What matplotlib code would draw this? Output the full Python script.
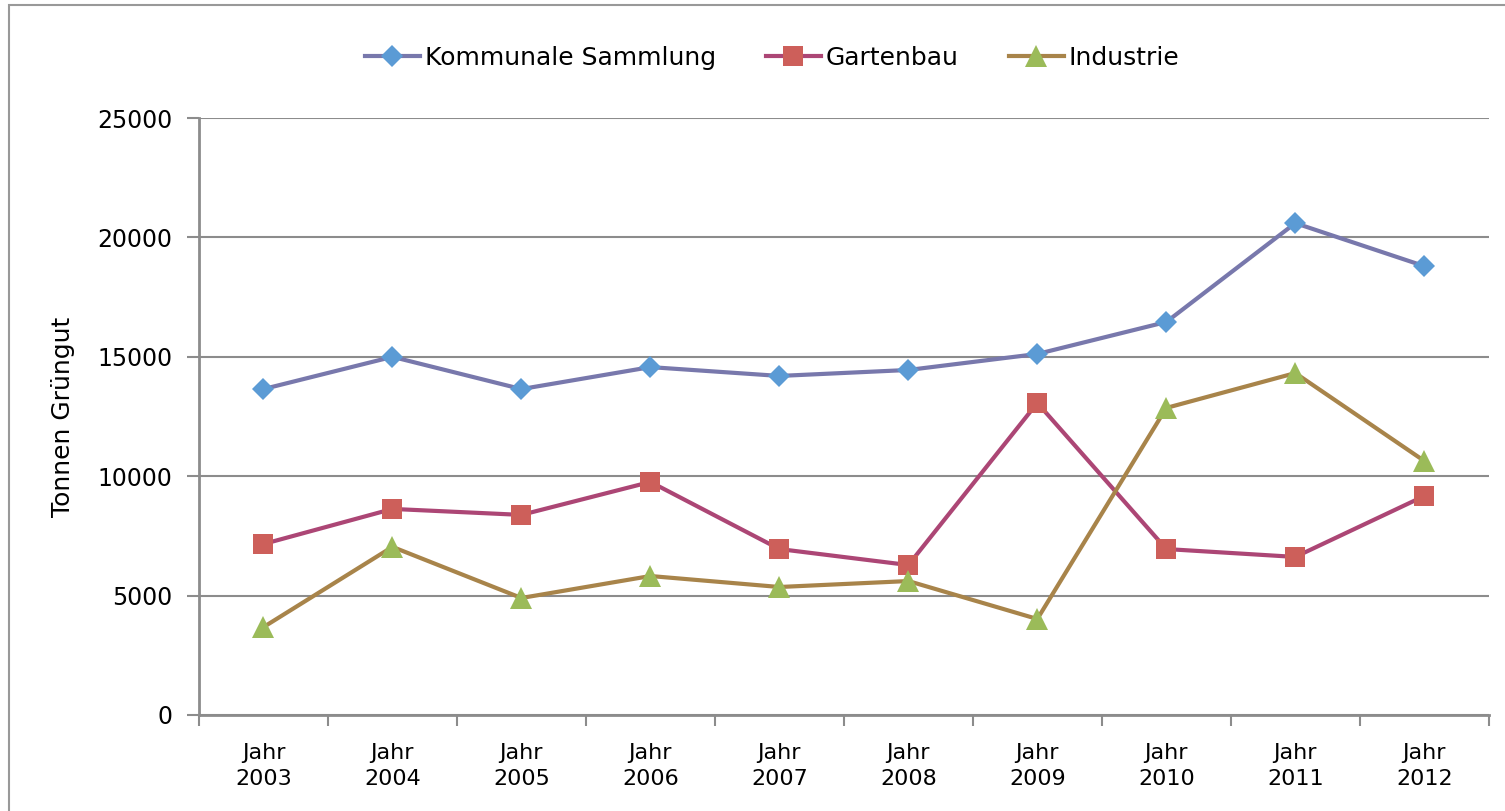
import numpy as np
import matplotlib
matplotlib.use("Agg")
import matplotlib.pyplot as plt
from matplotlib.patches import Rectangle

# Daten
jahre = ["Jahr\n2003", "Jahr\n2004", "Jahr\n2005", "Jahr\n2006", "Jahr\n2007",
         "Jahr\n2008", "Jahr\n2009", "Jahr\n2010", "Jahr\n2011", "Jahr\n2012"]
kommunal = [13650, 15000, 13650, 14570, 14200, 14450, 15120, 16460, 20600, 18800]
gartenbau = [7160, 8630, 8380, 9760, 6950, 6280, 13070, 6950, 6620, 9170]
industrie = [3680, 7040, 4900, 5820, 5360, 5610, 4020, 12860, 14320, 10640]

fig = plt.figure(figsize=(15.05, 8.11), dpi=100)
ax = fig.add_axes([0.1322, 0.1184, 0.857, 0.736])

# Rahmen um das Diagramm
fig.patches.append(Rectangle((9 / 1505, -0.1), 1.2, 1 - 5 / 811 + 0.1,
                             transform=fig.transFigure, fill=False,
                             edgecolor="#999999", linewidth=1.5))

x = np.arange(len(jahre))
ax.plot(x, kommunal, color="#7878AC", lw=3, marker="D", ms=11,
        mfc="#5B9BD5", mec="#5B9BD5", mew=0, label="Kommunale Sammlung", zorder=3)
ax.plot(x, gartenbau, color="#AC4675", lw=3, marker="s", ms=15,
        mfc="#CD5F5A", mec="#CD5F5A", mew=0, label="Gartenbau", zorder=3)
ax.plot(x, industrie, color="#A8844A", lw=3, marker="^", ms=16,
        mfc="#9BBB59", mec="#9BBB59", mew=0, label="Industrie", zorder=3)

ax.set_xlim(-0.5, len(jahre) - 0.5)
ax.set_ylim(0, 25000)
ax.set_yticks(np.arange(0, 25001, 5000))
ax.yaxis.grid(True, color="#8C8C8C", lw=1.5)
ax.set_axisbelow(True)

ax.set_xticks(x)
ax.set_xticklabels(jahre, fontsize=16, linespacing=1.4)
ax.set_xticks(np.arange(-0.5, len(jahre)), minor=True)
ax.tick_params(axis="x", which="major", length=0, pad=20)
ax.tick_params(axis="x", which="minor", length=8, width=1.5, color="#8C8C8C", direction="out")
ax.tick_params(axis="y", length=9, width=1.5, color="#8C8C8C", labelsize=17, pad=10)

for s in ["top", "right"]:
    ax.spines[s].set_visible(False)
for s in ["left", "bottom"]:
    ax.spines[s].set_color("#8C8C8C")
    ax.spines[s].set_linewidth(2)

ax.set_ylabel("Tonnen Grüngut", fontsize=18, labelpad=16)

fig.legend(loc="center", bbox_to_anchor=(772 / 1505, 1 - 58 / 811), ncol=3,
           frameon=False, fontsize=18, handlelength=2.2, handletextpad=0.2,
           columnspacing=2.0)

fig.savefig("out.png", dpi=100)
